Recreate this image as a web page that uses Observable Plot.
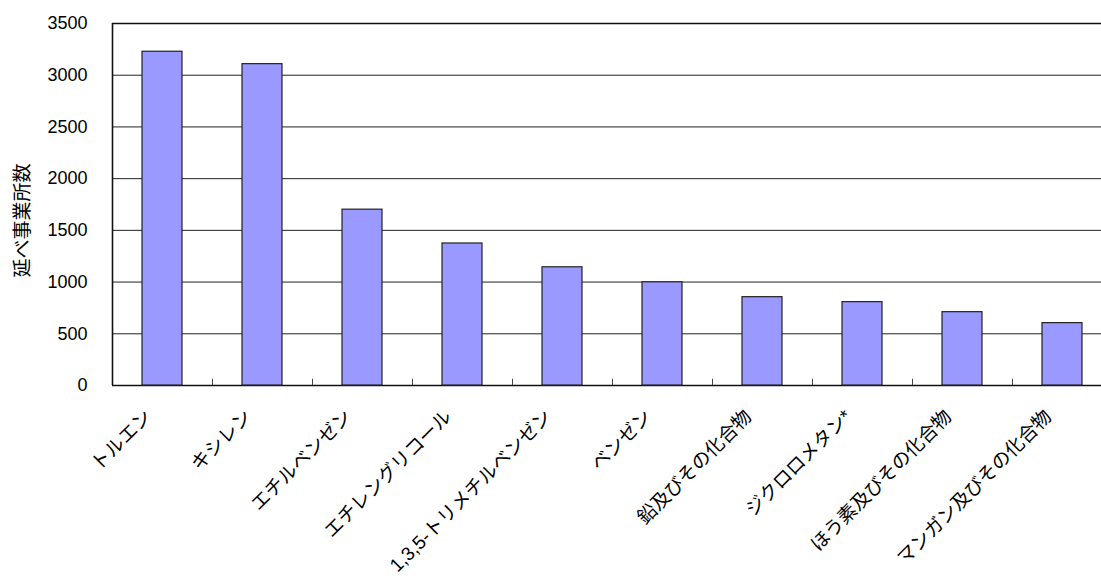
<!DOCTYPE html>
<html>
<head>
<meta charset="utf-8">
<script src="https://cdn.jsdelivr.net/npm/d3@7"></script>
<script src="https://cdn.jsdelivr.net/npm/@observablehq/plot@0.6"></script>
<style>
  html, body { margin: 0; padding: 0; background: #fff; overflow: hidden; }
  #chart svg { display: block; }
</style>
</head>
<body>
<div id="chart"></div>
<script>
const categories = ["トルエン", "キシレン", "エチルベンゼン", "エチレングリコール", "1,3,5-トリメチルベンゼン", "ベンゼン", "鉛及びその化合物", "ジクロロメタン*", "ほう素及びその化合物", "マンガン及びその化合物"];
const values = [3227, 3107, 1700, 1373, 1143, 998, 854, 806, 709, 603];
const yTicks = [0, 500, 1000, 1500, 2000, 2500, 3000, 3500];
const yLabel = "延べ事業所数";

const data = categories.map((c, i) => ({category: c, value: values[i]}));
const font = "'Liberation Sans', Arial, 'Noto Sans CJK JP', sans-serif";

const chart = Plot.plot({
  width: 1101,
  height: 580,
  marginTop: 23,
  marginBottom: 195,
  marginLeft: 112,
  marginRight: 0,
  style: {fontFamily: font, fontSize: "18px", color: "#000", background: "#fff"},
  x: {domain: categories, range: [112, 1112], paddingInner: 0.6, paddingOuter: 0.3, axis: null},
  y: {domain: [0, 3500], ticks: yTicks, label: null},
  marks: [
    Plot.ruleY(yTicks.slice(1, -1), {stroke: "#222", strokeWidth: 1}),
    Plot.ruleY([0, 3500], {stroke: "#111", strokeWidth: 1.6}),
    Plot.ruleX([categories[0]], {dx: -50, y1: 0, y2: 3500, stroke: "#111", strokeWidth: 1.6}),
    Plot.ruleX(categories.slice(1), {x: d => d, dx: -50, y1: 0, y2: 60, stroke: "#444", strokeWidth: 1}),
    Plot.barY(data, {x: "category", y: "value", fill: "#9999FF", stroke: "#222", strokeWidth: 1.2}),
    Plot.axisY({ticks: yTicks, tickSize: 0, tickPadding: 25, fontSize: 18, tickFormat: d3.format("d"), label: null}),
    Plot.text(categories, {x: d => d, y: 0, text: d => d, rotate: -45, textAnchor: "end", lineAnchor: "middle", dx: -14, dy: 28, fontSize: 19, fill: "#000"}),
    Plot.text([yLabel], {frameAnchor: "left", dx: -90, dy: 16, rotate: -90, textAnchor: "middle", fontSize: 19, fill: "#000"})
  ]
});
document.getElementById("chart").appendChild(chart);
</script>
</body>
</html>
